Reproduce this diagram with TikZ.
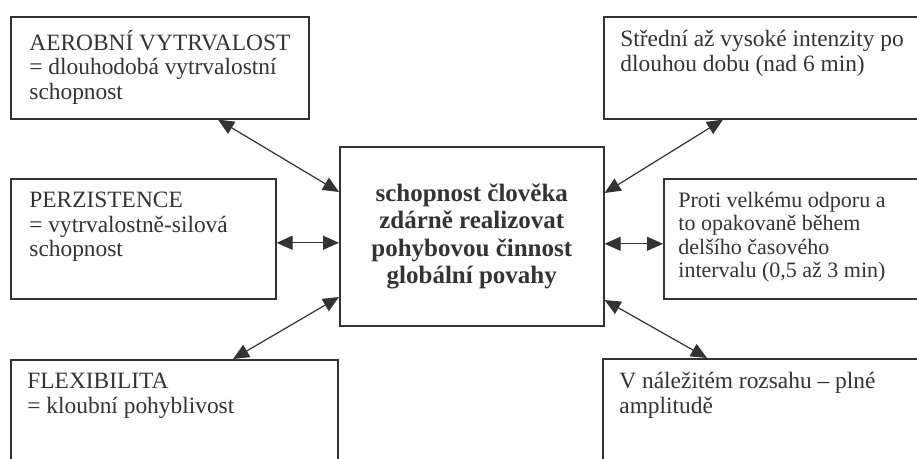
\documentclass[tikz,border=0pt]{standalone}
\usepackage{fontspec}
\setmainfont{Liberation Serif}
\usetikzlibrary{arrows.meta}
\definecolor{ink}{HTML}{333333}

\begin{document}
\begin{tikzpicture}[x=0.5pt, y=-0.5pt,
	box/.style={draw=ink, line width=0.8pt, anchor=north west, inner sep=0pt},
	boxtext/.style={anchor=north west, inner sep=0pt, align=left, text=ink,
		font=\fontsize{11.7}{12.2}\selectfont, execute at begin node=\strut},
	link/.style={{Triangle[length=8pt,width=7pt]}-{Triangle[length=8pt,width=7pt]},
		draw=ink, fill=ink, line width=0.6pt}]
	\useasboundingbox (0,0) rectangle (917,459);
	\clip (0,0) rectangle (917,459);
	% left column
	\node[box, minimum width=149pt, minimum height=51pt] (aero) at (10,16) {};
	\node[box, minimum width=132.5pt, minimum height=60pt] (perz) at (10,178) {};
	\node[box, minimum width=163.5pt, minimum height=60pt] (flex) at (10,359) {};
	% centre
	\node[box, minimum width=132pt, minimum height=89.5pt, align=center, text=ink,
		font=\fontsize{12.5}{13.7}\selectfont\bfseries] (core) at (339,146)
		{schopnost člověka\\zdárně realizovat\\pohybovou činnost\\globální povahy};
	% right column
	\node[box, minimum width=170pt, minimum height=51pt] (stred) at (603,16) {};
	\node[box, minimum width=150pt, minimum height=60pt] (proti) at (663,178) {};
	\node[box, minimum width=170pt, minimum height=60pt] (rozsah) at (602,358) {};
	% texts
	\node[boxtext] (aerotext) at ([shift={(9.5pt,-7pt)}]aero.north west)
		{AEROBNÍ VYTRVALOST\\= dlouhodobá vytrvalostní\\schopnost};
	\node[boxtext] (perztext) at ([shift={(9.5pt,-7pt)}]perz.north west)
		{PERZISTENCE\\= vytrvalostně-silová\\schopnost};
	\node[boxtext] (flextext) at ([shift={(8.5pt,-7pt)}]flex.north west)
		{FLEXIBILITA\\= kloubní pohyblivost};
	\node[boxtext] (stredtext) at ([shift={(8.5pt,-7pt)}]stred.north west)
		{Střední až vysoké intenzity po\\dlouhou dobu (nad 6 min)};
	\node[boxtext, font=\fontsize{11}{11.6}\selectfont] (protitext)
		at ([shift={(7.5pt,-7pt)}]proti.north west)
		{Proti velkému odporu a\\to opakovaně během\\delšího časového\\intervalu (0,5 až 3 min)};
	\node[boxtext] (rozsahtext) at ([shift={(8.5pt,-7pt)}]rozsah.north west)
		{V náležitém rozsahu – plné\\amplitudě};
	% connectors
	\draw[link] ([xshift=104pt]aero.south west) -- ([yshift=-23pt]core.north west);
	\draw[link] ([yshift=-2pt]perz.east) -- ([yshift=-2pt]perz.east -| core.west);
	\draw[link] ([yshift=-75.5pt]core.north west) -- ([xshift=111.5pt]flex.north west);
	\draw[link] ([xshift=60pt]stred.south west) -- ([yshift=-23.5pt]core.north east);
	\draw[link] ([yshift=-2.5pt]proti.west -| core.east) -- ([yshift=-2.5pt]proti.west);
	\draw[link] ([yshift=-77pt]core.north east) -- ([xshift=52.5pt]rozsah.north west);
\end{tikzpicture}
\end{document}
